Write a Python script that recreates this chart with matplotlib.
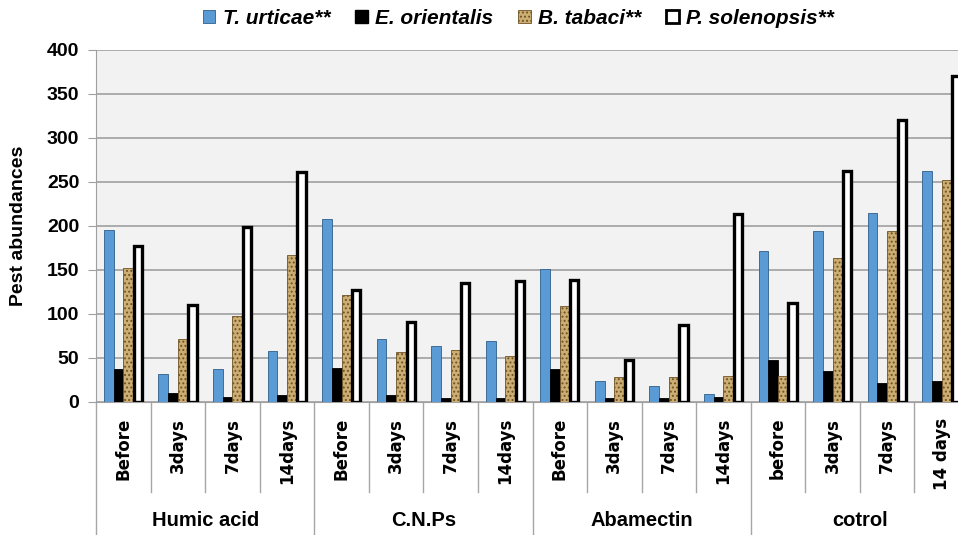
import numpy as np
import matplotlib
matplotlib.use("Agg")
import matplotlib.pyplot as plt
from matplotlib.patches import Patch

# data
groups = ['Humic acid', 'C.N.Ps', 'Abamectin', 'cotrol']
times = ['Before', '3days', '7days', '14days',
         'Before', '3days', '7days', '14days',
         'Before', '3days', '7days', '14days',
         'before', '3days', '7days', '14 days']
series_names = ['T. urticae**', 'E. orientalis', 'B. tabaci**', 'P. solenopsis**']

t_urticae = [195, 32, 38, 58, 208, 72, 64, 69, 151, 24, 18, 9, 172, 194, 215, 263]
e_orientalis = [38, 10, 6, 8, 39, 8, 5, 5, 38, 4, 4, 6, 48, 35, 22, 24]
b_tabaci = [152, 72, 98, 167, 122, 57, 59, 52, 109, 28, 28, 29, 29, 164, 194, 252]
p_solenopsis = [177, 110, 199, 261, 127, 91, 135, 138, 139, 48, 88, 214, 112, 262, 320, 370]

plt.rcParams['hatch.linewidth'] = 0.9

fig = plt.figure(figsize=(9.58, 5.35), dpi=100)
# axes runs a bit past the right edge, as in the original
ax = fig.add_axes([96 / 958, 133 / 535, 873 / 958, 352 / 535])
ax.set_facecolor('#f2f2f2')

x = np.arange(len(times))
w = 0.178
offs = np.array([-1.5, -0.5, 0.5, 1.5]) * w

ax.bar(x + offs[0], t_urticae, w, color='#5b9bd5', edgecolor='#2f5f8a', linewidth=0.6, zorder=3)
ax.bar(x + offs[1], e_orientalis, w, color='black', edgecolor='black', linewidth=0.6, zorder=3)
ax.bar(x + offs[2], b_tabaci, w, color='#cdae72', edgecolor='#6e5226', hatch='....', linewidth=0.6, zorder=3)
ax.bar(x + offs[3], p_solenopsis, w * 0.85, color='white', edgecolor='black', linewidth=2.4, zorder=3)

ax.set_xlim(-0.5, 15.5)
ax.set_ylim(0, 400)
ax.set_yticks(range(0, 401, 50))
ax.yaxis.grid(True, color='#a0a0a0', linewidth=1.2, zorder=0)
ax.set_axisbelow(True)
ax.set_xticks([])
for s in ['top', 'right']:
    ax.spines[s].set_visible(False)
ax.spines['left'].set_color('#a0a0a0')
ax.spines['bottom'].set_color('#a0a0a0')
ax.tick_params(axis='y', direction='out', length=6, color='#a0a0a0', pad=6)
for lab in ax.get_yticklabels():
    lab.set_fontfamily('Liberation Sans')
    lab.set_fontweight('bold')
    lab.set_fontsize(14)

ax.set_ylabel('Pest abundances', fontfamily='Liberation Sans', fontweight='bold',
              fontsize=14, labelpad=14)

# multi-level category axis
trans = ax.get_xaxis_transform()
for i in range(len(times) + 1):
    xb = i - 0.5
    low = -0.378 if i % 4 == 0 else -0.2557
    ax.plot([xb, xb], [0, low], transform=trans, color='#a6a6a6', linewidth=1,
            clip_on=False)
for i, t in enumerate(times):
    ax.text(i, -0.045, t, transform=trans, rotation=90, ha='center', va='top',
            fontsize=12, fontweight='bold', family='DejaVu Sans')
for g, name in enumerate(groups):
    ax.text(g * 4 + 1.5, -0.338, name, transform=trans, ha='center', va='center',
            fontsize=14.5, fontweight='bold', family='Liberation Sans')

handles = [Patch(facecolor='#5b9bd5', edgecolor='#2f5f8a', linewidth=0.6),
           Patch(facecolor='black', edgecolor='black'),
           Patch(facecolor='#cdae72', edgecolor='#6e5226', hatch='....', linewidth=0.6),
           Patch(facecolor='white', edgecolor='black', linewidth=2)]
fig.legend(handles, series_names, loc='center', bbox_to_anchor=(0.541, 0.966), ncol=4,
           frameon=False, handlelength=0.6, handleheight=0.6, handletextpad=0.35,
           columnspacing=1.2, prop={'family': 'Liberation Sans', 'weight': 'bold',
                                    'style': 'italic', 'size': 15})

fig.savefig('out.png', dpi=100)
